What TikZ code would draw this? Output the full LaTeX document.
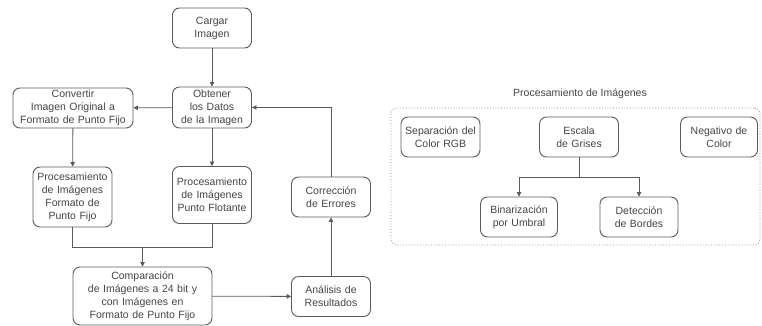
\documentclass[tikz,border=0pt]{standalone}
\usepackage{fontspec}
\setmainfont{Liberation Sans}
\usetikzlibrary{arrows.meta}
\definecolor{linec}{HTML}{5A5A5A}
\definecolor{textc}{HTML}{444444}
\tikzset{
  box/.style={draw=linec, line width=0.9pt, rounded corners=7pt, align=center,
    text=textc, font=\fontsize{10.5}{13}\selectfont, inner sep=0pt,
    minimum width=#1, text width=#1},
  box/.default=79pt,
  arr/.style={draw=linec, line width=0.8pt, -{Triangle[length=4.5pt,width=4.5pt]}},
  ln/.style={draw=linec, line width=0.8pt},
}
\begin{document}
\begin{tikzpicture}[x=1pt,y=-1pt]
\useasboundingbox (0,0) rectangle (762,325);
% left flow
\node[box, minimum height=40pt] (cargar) at (212,28) {Cargar\\Imagen};
\node[box, minimum height=41pt] (obtener) at (212,107.5) {Obtener\\los Datos\\de la Imagen};
\node[box=120pt, minimum height=40pt] (convertir) at (73,108) {Convertir\\Imagen Original a\\Formato de Punto Fijo};
\node[box, minimum height=60pt] (pfijo) at (72.5,197) {Procesamiento\\de Imágenes\\Formato de\\Punto Fijo};
\node[box, minimum height=57pt] (pflot) at (212,195) {Procesamiento\\de Imágenes\\Punto Flotante};
\node[box, minimum height=40pt] (correc) at (331,197) {Corrección\\de Errores};
\node[box=139pt, minimum height=58pt] (compar) at (142.5,296) {Comparación\\de Imágenes a 24 bit y\\con Imágenes en\\Formato de Punto Fijo};
\node[box, minimum height=40pt] (anal) at (331,296.5) {Análisis de\\Resultados};
\coordinate (mL) at (72.5,247);
\coordinate (mR) at (212,247);
\coordinate (mC) at (142.5,247);
\coordinate (loop) at (331,107.5);

\draw[arr] (cargar) -- (obtener);
\draw[arr] (obtener) -- (convertir);
\draw[arr] (convertir) -- (pfijo);
\draw[arr] (obtener) -- (pflot);
\draw[ln] (pfijo.south) -- (mL) -- (mR) -- (pflot.south);
\draw[arr] (mC) -- (compar);
\draw[arr] (compar) -- (anal);
\draw[arr] (anal) -- (correc);
\draw[arr] (correc.north) -- (loop) -- (obtener.east);

% right panel
\node[text=textc, font=\fontsize{10.5}{13}\selectfont] (title) at (580,94) {Procesamiento de Imágenes};
\node[draw=linec!70, line width=0.8pt, dotted, rounded corners=6pt, minimum width=369pt, minimum height=137pt, inner sep=0pt] (panel) at (575.5,176.5) {};
\node[box, minimum height=40pt] (sep) at (440.5,137) {Separación del\\Color RGB};
\node[box, minimum height=40pt] (esc) at (579,137) {Escala\\de Grises};
\node[box=77pt, minimum height=40pt] (neg) at (719,137) {Negativo de\\Color};
\node[box=77pt, minimum height=40pt] (bin) at (519,217) {Binarización\\por Umbral};
\node[box=78pt, minimum height=40pt] (det) at (639,217) {Detección\\de Bordes};
\coordinate (bC) at (579,177);
\coordinate (bL) at (519,177);
\coordinate (bR) at (639,177);
\draw[ln] (esc.south) -- (bC);
\draw[arr] (bC) -- (bL) -- (bin.north);
\draw[arr] (bC) -- (bR) -- (det.north);
\end{tikzpicture}
\end{document}
